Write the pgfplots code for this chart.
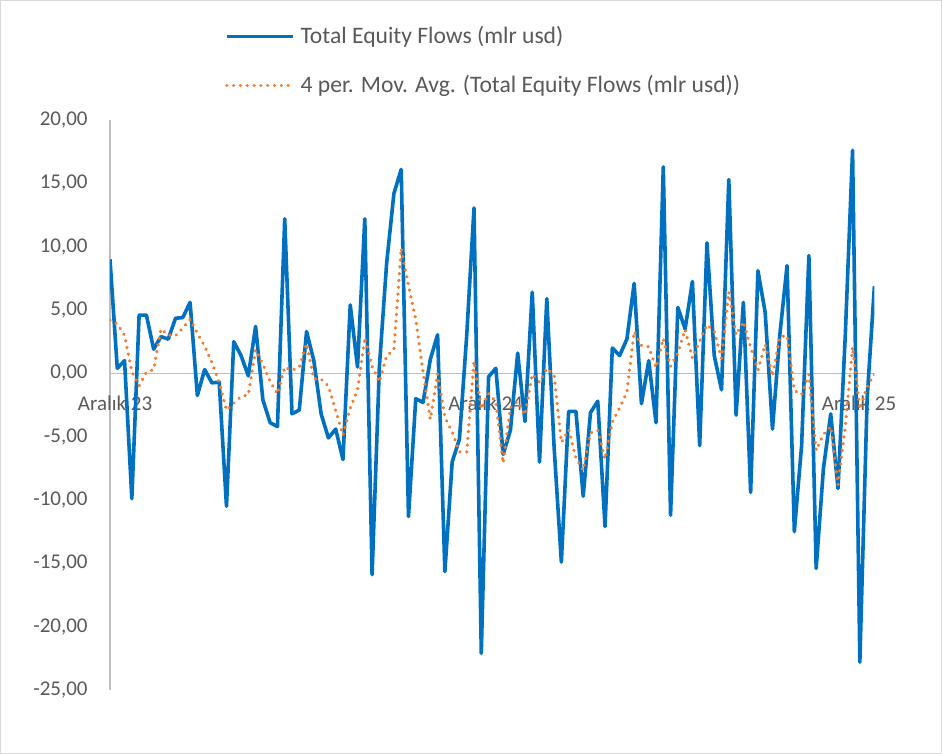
\documentclass[border=0pt]{standalone}
\usepackage{pgfplots}
\usepackage{pgfplotstable}
\pgfplotsset{compat=1.18}
\usepackage{fontspec}
\setmainfont{Carlito}
\definecolor{xlblue}{RGB}{0,112,192}
\definecolor{xlorange}{RGB}{237,125,49}
\definecolor{lblgray}{RGB}{89,89,89}
\definecolor{axgray}{RGB}{191,191,191}
\definecolor{bordergray}{RGB}{217,217,217}

\pgfplotstableread{
i blue ma
0 9.0 4.2
1 0.4 3.9
2 1.0 3.0
3 -9.9 0.13
4 4.6 -0.98
5 4.6 0.08
6 1.9 0.30
7 2.9 3.50
8 2.7 3.03
9 4.35 2.96
10 4.4 3.59
11 5.6 4.26
12 -1.75 3.15
13 0.3 2.14
14 -0.75 0.85
15 -0.7 -0.73
16 -10.5 -2.91
17 2.5 -2.36
18 1.4 -1.83
19 -0.2 -1.70
20 3.7 1.85
21 -2.1 0.70
22 -3.9 -0.63
23 -4.2 -1.63
24 12.2 0.50
25 -3.2 0.23
26 -2.9 0.48
27 3.3 2.35
28 1.0 -0.45
29 -3.2 -0.45
30 -5.1 -1.00
31 -4.4 -2.93
32 -6.8 -4.88
33 5.4 -2.73
34 0.5 -1.33
35 12.2 2.83
36 -15.9 0.55
37 0.5 -0.68
38 8.7 1.38
39 14.2 1.88
40 16.1 9.88
41 -11.3 6.93
42 -2.0 4.25
43 -2.3 0.13
44 1.1 -3.63
45 3.05 -0.04
46 -15.65 -3.45
47 -7.0 -4.63
48 -5.2 -6.20
49 3.0 -6.21
50 13.05 0.96
51 -22.1 -2.81
52 -0.27 -1.58
53 0.4 -2.23
54 -6.4 -7.09
55 -4.5 -2.69
56 1.6 -2.23
57 -3.8 -3.28
58 6.4 -0.08
59 -7.0 -0.70
60 5.9 0.38
61 -5.8 -0.13
62 -14.9 -5.45
63 -3.0 -4.45
64 -3.0 -6.68
65 -9.7 -7.65
66 -3.1 -4.70
67 -2.2 -4.50
68 -12.1 -6.78
69 2.0 -3.85
70 1.4 -2.73
71 2.7 -1.50
72 7.1 3.30
73 -2.4 2.20
74 1.0 2.10
75 -3.9 0.45
76 16.3 2.75
77 -11.2 0.55
78 5.2 1.60
79 3.5 3.45
80 7.25 1.19
81 -5.7 2.56
82 10.3 3.84
83 1.4 3.31
84 -1.3 1.18
85 15.3 6.43
86 -3.3 3.03
87 5.6 4.08
88 -9.4 2.05
89 8.1 0.25
90 4.8 2.28
91 -4.4 -0.23
92 3.0 2.88
93 8.5 2.98
94 -12.5 -1.35
95 -5.7 -1.68
96 9.3 -0.10
97 -15.4 -6.08
98 -7.5 -4.83
99 -3.2 -4.20
100 -9.1 -8.80
101 3.0 -4.20
102 17.6 2.08
103 -22.8 -2.83
104 -2.0 -1.05
105 6.9 -0.08
}\data

\begin{document}
\begin{tikzpicture}
\path[use as bounding box] (-55pt,-32pt) rectangle (416pt,345pt);
\draw[bordergray, line width=0.6pt] (-54.6pt,-31.6pt) rectangle (415.6pt,344.6pt);
\begin{axis}[
  at={(0,0)}, anchor=south west,
  scale only axis,
  width=382.2pt, height=285pt,
  xmin=0, xmax=105,
  ymin=-25, ymax=20,
  axis x line=middle,
  axis y line=left,
  axis line style={draw=axgray, line width=0.8pt, -},
  major tick length=0pt,
  ytick={-25,-20,...,20},
  xtick={0.7,51.6,102.9},
  xticklabels={Aralık 23, Aralık 24, Aralık 25},
  /pgf/number format/.cd, fixed, fixed zerofill, precision=2, use comma, assume math mode=true,
  /pgfplots/.cd,
  every tick label/.append style={font=\fontsize{10.5}{12}\selectfont, text=lblgray},
  yticklabel style={anchor=east, inner sep=0pt, xshift=-11pt},
  xticklabel style={anchor=north, inner sep=0pt, yshift=-11pt},
  legend image code/.code={\draw[#1] (0pt,0pt) -- (33pt,0pt);},
  legend style={draw=none, fill=none, inner sep=0pt, outer sep=0pt,
    at={(axis description cs:0.1504,1.1035)}, anchor=west,
    nodes={inner sep=0pt, text=lblgray, font=\fontsize{11.8}{14}\selectfont},
    column sep=3pt, row sep=14.2pt},
  legend cell align=left,
]
\addplot[xlblue, line width=1.8pt, line join=round] table[x=i, y=blue] {\data};
\addlegendentry{Total Equity Flows (mlr usd)}
\addplot[xlorange, line width=1.8pt, line cap=round, dash pattern=on 0.01pt off 3.4pt] table[x=i, y=ma] {\data};
\addlegendentry{4 per. Mov. Avg. (Total Equity Flows (mlr usd))}
\end{axis}
\end{tikzpicture}
\end{document}
